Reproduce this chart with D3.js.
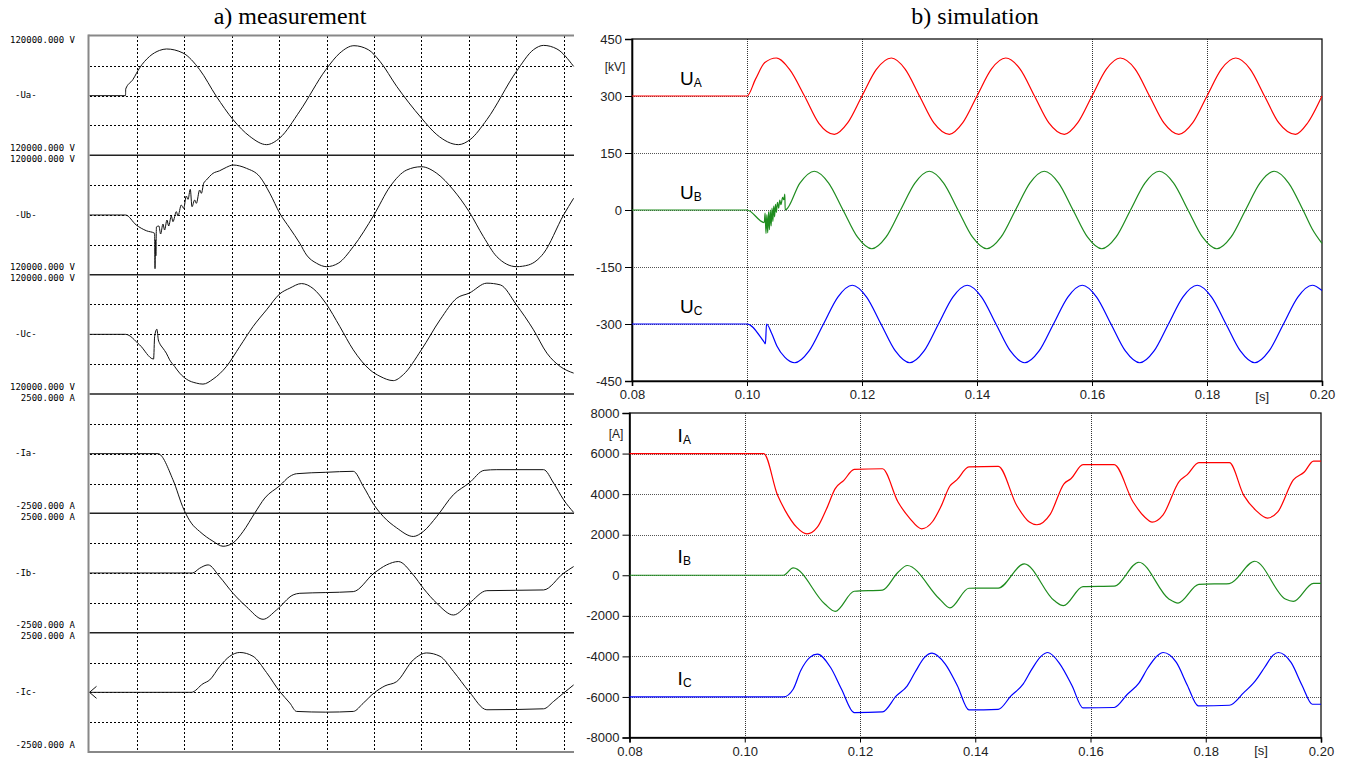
<html>

<head>
	<meta charset="UTF-8">
	<title>Measurement vs simulation</title>
	<script src="https://cdn.jsdelivr.net/npm/d3@7"></script>
	<style>
		body {
			padding: 0;
			margin: 0;
			background: #fff;
		}
	</style>
</head>

<body>
	<script>
		var w = 1351,
			h = 761;

		// ---- a) measurement: time in ms, values in V / A ----
		var measGridMs = [5, 10, 15, 20, 25, 30, 35, 40, 45, 50];
		var measNames = ["-Ua-", "-Ub-", "-Uc-", "-Ia-", "-Ib-", "-Ic-"];
		var measTopLabels = ["120000.000 V", "120000.000 V", "120000.000 V", "2500.000 A", "2500.000 A", "2500.000 A"];
		var measBottomLabels = ["120000.000 V", "120000.000 V", "120000.000 V", "-2500.000 A", "-2500.000 A", "-2500.000 A"];
		var measFullScale = [120000, 120000, 120000, 2500, 2500, 2500];

		var measUa = [[0, 0], [3.80, 0], [3.82, 13500], [4.57, 32200], [5.28, 55700], [6.34, 79000], [7.39, 91000], [8.13, 93900],
			[9.86, 85800], [11.62, 52300], [13.38, -1400], [15.14, -48200], [16.90, -81800], [18.67, -98500], [20.07, -85000],
			[22.18, -31000], [24.93, 52300], [26.41, 85800], [27.89, 100500], [29.40, 92500], [30.64, 68900], [32.40, 18700],
			[35.00, -44800], [36.63, -78400], [38.91, -98500], [40.14, -88400], [41.91, -48200], [45.03, 48800], [46.83, 92500],
			[47.89, 101100], [49.30, 93900], [51.06, 58900]];
		var measUb = [[0, 0], [3.80, 0], [4.93, -20100], [5.99, -31600], [6.87, -36800], [6.91, -108000], [6.95, -50000],
			[7.00, -82000], [7.06, -24000], [7.32, -22100], [7.50, -38200], [7.75, -18100], [7.92, -30200], [8.17, -10100],
			[8.35, -22100], [8.63, -2000], [8.80, -13400], [9.16, 6700], [9.33, -2000], [9.68, 20100], [9.93, 13400],
			[10.21, 38200], [10.39, 31500], [10.63, 51600], [10.81, 16700], [11.09, 30200], [11.27, 23500], [11.62, 50300],
			[11.80, 43600], [12.04, 63700], [12.33, 70400], [13.03, 83800], [13.73, 89000], [14.44, 95900], [15.14, 100500],
			[16.55, 93900], [17.96, 77000], [19.02, 43600], [20.07, 3400], [21.13, -26700], [22.18, -56900], [22.89, -80400],
			[23.95, -97100], [25.01, -103900], [26.23, -97100], [27.82, -63700], [30.00, 0], [31.69, 56900], [33.46, 90500],
			[35.00, 97100], [36.63, 83800], [38.38, 50300], [40.04, 6600], [41.55, -43600], [42.96, -83800], [45.03, -103900],
			[46.30, -100500], [47.89, -77000], [50.00, 0], [51.06, 33600]];
		var measUc = [[0, 0], [3.80, 0], [5.28, -21100], [6.76, -49700], [6.87, -4400], [7.11, 10300], [7.26, -11100],
			[7.39, -17800], [7.74, -27800], [8.10, -37800], [8.45, -51300], [8.98, -64700], [9.51, -78000], [10.22, -90100],
			[11.27, -98100], [11.97, -100100], [13.03, -90100], [14.44, -64700], [15.85, -24500], [17.25, 15700], [18.67, 49200],
			[20.07, 81400], [21.13, 92900], [22.36, 102100], [23.59, 92000], [24.93, 62300], [26.41, 15400], [27.82, -31200],
			[29.58, -71400], [30.64, -84400], [32.04, -93100], [33.10, -81000], [35.00, -31200], [36.97, 29100], [38.74, 72700],
			[40.04, 82800], [41.91, 102900], [43.32, 99500], [45.03, 59300], [46.83, 9000], [48.24, -37800], [49.65, -64700],
			[51.06, -78000]];
		var measIa = [[0, 0], [7.22, 0], [8.80, -1090], [9.96, -2350], [10.74, -2910], [11.62, -3260], [13.03, -3670],
			[14.09, -3880], [15.14, -3740], [16.20, -3260], [17.43, -2490], [18.49, -1860], [20.07, -1340], [21.13, -950],
			[21.84, -840], [24.93, -780], [27.82, -740], [28.88, -1370], [30.00, -2140], [30.98, -2630], [32.40, -3110],
			[34.15, -3470], [35.21, -3260], [36.63, -2630], [38.38, -1720], [40.04, -1230], [41.62, -700], [42.96, -670],
			[47.89, -670], [48.95, -1230], [50.00, -1930], [51.06, -2460]];
		var measIb = [[0, 0], [10.85, 0], [11.62, 200], [12.51, 340], [13.73, -160], [15.14, -850], [16.55, -1410],
			[18.31, -1940], [19.72, -1550], [21.48, -920], [22.18, -850], [24.93, -820], [27.82, -780], [30.00, -10],
			[31.34, 340], [32.57, 480], [34.15, -80], [35.21, -640], [36.63, -1270], [38.38, -1760], [40.04, -1270],
			[41.91, -740], [47.89, -710], [50.00, -10], [51.06, 270]];
		var measIc = [[0, 0], [10.74, 0], [11.97, 360], [12.68, 520], [13.73, 1080], [14.79, 1510], [15.85, 1670],
			[17.25, 1510], [18.67, 830], [20.07, 30], [21.13, -450], [21.84, -800], [24.93, -830], [27.82, -800],
			[28.88, -450], [30.00, -30], [31.16, 270], [32.40, 450], [34.15, 1360], [35.56, 1650], [36.97, 1510],
			[38.38, 880], [40.04, 30], [41.91, -730], [47.89, -690], [48.95, -380], [50.00, -30], [51.06, 310]];
		var measSeries = [measUa, measUb, measUc, measIa, measIb, measIc];

		// ---- b) simulation: time in s, kV / A ----
		var simTimeTicks = [0.08, 0.10, 0.12, 0.14, 0.16, 0.18, 0.20];
		var simUTicks = [-450, -300, -150, 0, 150, 300, 450];
		var simITicks = [-8000, -6000, -4000, -2000, 0, 2000, 4000, 6000, 8000];

		var simUA = [[0.08, 300], [0.10, 300], [0.1015, 345], [0.1031, 388], [0.1051, 400], [0.1074, 370], [0.110, 300],
			[0.1125, 228], [0.1152, 199], [0.1175, 229], [0.120, 300], [0.1225, 370], [0.1251, 400], [0.1275, 371],
			[0.130, 300], [0.1325, 229], [0.1352, 199], [0.1375, 229], [0.140, 300], [0.1425, 371], [0.145, 400],
			[0.1475, 371], [0.150, 300], [0.1525, 229], [0.1552, 199], [0.1575, 229], [0.160, 300], [0.1625, 371],
			[0.1649, 400], [0.1675, 371], [0.170, 300], [0.1725, 229], [0.1751, 199], [0.1775, 229], [0.180, 300],
			[0.1825, 371], [0.185, 400], [0.1875, 371], [0.190, 300], [0.1925, 229], [0.1954, 199], [0.1975, 229],
			[0.200, 300]];
		var simUB = [[0.08, 0], [0.10, 0], [0.1030, -33], [0.10315, -8], [0.1033, -62], [0.10345, -12], [0.1036, -60],
			[0.10375, -4], [0.1039, -52], [0.10405, 0], [0.1042, -42], [0.10435, 5], [0.1045, -30], [0.10465, 10],
			[0.1048, -18], [0.10495, 15], [0.1051, -6], [0.1053, 20], [0.1055, 5], [0.1057, 26], [0.1059, 14],
			[0.1062, 33], [0.1064, 27], [0.10658, 42], [0.10664, 0], [0.1092, 71], [0.1117, 102], [0.1142, 71],
			[0.1167, 0], [0.1192, -71], [0.1217, -102], [0.1242, -71], [0.1267, 0], [0.1292, 71], [0.1317, 102],
			[0.1342, 71], [0.1367, 0], [0.1392, -71], [0.1417, -102], [0.1442, -71], [0.1467, 0], [0.1492, 71],
			[0.1517, 102], [0.1542, 71], [0.1567, 0], [0.1592, -71], [0.1617, -102], [0.1642, -71], [0.1667, 0],
			[0.1692, 71], [0.1717, 102], [0.1742, 71], [0.1767, 0], [0.1792, -71], [0.1817, -102], [0.1842, -71],
			[0.1867, 0], [0.1892, 71], [0.1917, 102], [0.1942, 71], [0.1967, 0], [0.1983, -50], [0.20, -88]];
		var simUC = [[0.08, -300], [0.10, -300], [0.1030, -348], [0.1032, -352], [0.1034, -300], [0.1043, -325],
			[0.1052, -358], [0.1066, -388], [0.1083, -402], [0.1108, -371], [0.1133, -300], [0.1158, -229],
			[0.1183, -198], [0.1208, -229], [0.1233, -300], [0.1258, -371], [0.1283, -402], [0.1308, -371],
			[0.1333, -300], [0.1358, -229], [0.1383, -198], [0.1408, -229], [0.1433, -300], [0.1458, -371],
			[0.1483, -402], [0.1508, -371], [0.1533, -300], [0.1558, -229], [0.1583, -198], [0.1608, -229],
			[0.1633, -300], [0.1658, -371], [0.1683, -402], [0.1708, -371], [0.1733, -300], [0.1758, -229],
			[0.1783, -198], [0.1808, -229], [0.1833, -300], [0.1858, -371], [0.1883, -402], [0.1908, -371],
			[0.1933, -300], [0.1958, -229], [0.1983, -198], [0.20, -212]];

		var simIA = [[0.08, 6000], [0.1033, 6000], [0.1057, 3940], [0.1070, 3200], [0.1090, 2370], [0.1108, 2040],
			[0.1126, 2370], [0.1142, 3280], [0.1157, 4270], [0.1172, 4680], [0.1190, 5220], [0.1239, 5250],
			[0.1266, 3610], [0.1286, 2820], [0.1307, 2290], [0.1326, 2650], [0.1340, 3360], [0.1356, 4400],
			[0.1368, 4700], [0.1389, 5340], [0.1440, 5370], [0.1472, 3440], [0.1494, 2620], [0.1507, 2490],
			[0.1530, 3000], [0.1554, 4510], [0.1566, 4760], [0.1587, 5450], [0.1641, 5450], [0.1674, 3610],
			[0.1694, 2870], [0.1707, 2620], [0.1726, 2980], [0.1754, 4630], [0.1768, 4960], [0.1788, 5550],
			[0.1841, 5550], [0.1866, 3940], [0.1887, 3200], [0.1907, 2820], [0.1925, 3120], [0.1952, 4700],
			[0.1971, 5090], [0.1987, 5630], [0.20, 5630]];
		var simIB = [[0.08, 0], [0.1067, 0], [0.1084, 360], [0.1139, -1420], [0.1157, -1780], [0.1190, -790],
			[0.1239, -730], [0.1266, 150], [0.1282, 480], [0.1338, -1170], [0.1356, -1610], [0.1389, -640],
			[0.1440, -630], [0.1485, 560], [0.1537, -1250], [0.1553, -1500], [0.1587, -560], [0.1641, -540],
			[0.1684, 640], [0.1736, -1170], [0.1752, -1370], [0.1788, -450], [0.1841, -410], [0.1885, 690],
			[0.1938, -1170], [0.1952, -1290], [0.1987, -400], [0.20, -400]];
		var simIC = [[0.08, -6000], [0.1067, -6000], [0.1084, -5620], [0.1097, -4710], [0.1113, -4050], [0.1126, -3890],
			[0.1149, -4550], [0.1168, -5620], [0.1190, -6770], [0.1239, -6740], [0.1263, -5950], [0.1282, -5450],
			[0.1296, -4760], [0.1312, -4050], [0.1325, -3840], [0.1348, -4380], [0.1369, -5450], [0.1389, -6640],
			[0.1440, -6610], [0.1462, -5950], [0.1483, -5370], [0.1498, -4640], [0.1514, -4000], [0.1526, -3810],
			[0.1547, -4380], [0.1568, -5450], [0.1587, -6540], [0.1641, -6520], [0.1664, -5870], [0.1684, -5320],
			[0.1700, -4550], [0.1716, -3970], [0.1726, -3810], [0.1749, -4300], [0.1768, -5420], [0.1787, -6440],
			[0.1841, -6410], [0.1866, -5790], [0.1886, -5210], [0.1902, -4550], [0.1917, -3940], [0.1926, -3810],
			[0.1948, -4300], [0.1967, -5420], [0.1985, -6360], [0.20, -6360]];

		var phaseColors = ["#ff0000", "#1e8c1e", "#0000ff"];
		var phaseSubs = ["A", "B", "C"];

		var svg = d3.select("body").append("svg")
			.attr("width", w)
			.attr("height", h)
			.style("background", "#fff");

		var sans = "'Liberation Sans', Arial, sans-serif";
		var mono = "'DejaVu Sans Mono', 'Liberation Mono', monospace";
		var serif = "'Liberation Serif', 'Times New Roman', serif";

		// snap thin lines to the pixel grid so dotted lines stay dotted
		function crisp(v) {
			return Math.round(v) + 0.5;
		}

		// titles
		svg.append("text").attr("x", 290).attr("y", 24).attr("text-anchor", "middle")
			.style("font-family", serif).style("font-size", "24px").text("a) measurement");
		svg.append("text").attr("x", 975).attr("y", 24).attr("text-anchor", "middle")
			.style("font-family", serif).style("font-size", "24px").text("b) simulation");

		// ================= a) measurement =================
		var mLeft = 89.5, mRight = 574, mTop = 36, mBottom = 752;
		var bandH = (mBottom - mTop) / 6;
		var xMeas = d3.scaleLinear().domain([0, 51.1]).range([mLeft, mRight]);
		var meas = svg.append("g");

		// vertical dotted grid
		meas.selectAll("line.vgrid").data(measGridMs).enter().append("line")
			.attr("x1", d => crisp(xMeas(d))).attr("x2", d => crisp(xMeas(d)))
			.attr("y1", mTop).attr("y2", mBottom)
			.attr("stroke", "#000").attr("stroke-width", 1).attr("stroke-dasharray", "2,2");

		measSeries.forEach(function (series, i) {
			var top = mTop + i * bandH;
			var r = measFullScale[i];
			var y = d3.scaleLinear().domain([-r, r]).range([top + bandH, top]);

			meas.selectAll("line.h" + i).data([-r / 2, 0, r / 2]).enter().append("line")
				.attr("x1", Math.round(mLeft)).attr("x2", mRight)
				.attr("y1", d => crisp(y(d))).attr("y2", d => crisp(y(d)))
				.attr("stroke", "#000").attr("stroke-width", 1).attr("stroke-dasharray", "2,2");

			if (i > 0) {
				meas.append("line").attr("x1", mLeft).attr("x2", mRight)
					.attr("y1", y(r)).attr("y2", y(r))
					.attr("stroke", "#222").attr("stroke-width", 1.5);
			}

			meas.append("path").datum(series)
				.attr("fill", "none").attr("stroke", "#111").attr("stroke-width", 1)
				.attr("d", d3.line().x(d => xMeas(d[0])).y(d => y(d[1])).curve(d3.curveMonotoneX));

			meas.append("text").attr("x", 75).attr("y", y(r) + 4).attr("text-anchor", "end")
				.attr("dominant-baseline", "middle")
				.style("font-family", mono).style("font-size", "9px").text(measTopLabels[i]);
			meas.append("text").attr("x", 75).attr("y", y(-r) - 7).attr("text-anchor", "end")
				.attr("dominant-baseline", "middle")
				.style("font-family", mono).style("font-size", "9px").text(measBottomLabels[i]);
			meas.append("text").attr("x", 15).attr("y", y(0)).attr("dominant-baseline", "middle")
				.style("font-family", mono).style("font-size", "9px").text(measNames[i]);

			// cursor arrow on the last channel
			if (i == 5) {
				var ax = xMeas(0), ay = y(0);
				meas.append("path")
					.attr("d", "M" + (ax + 7) + "," + (ay - 6) + "L" + ax + "," + ay + "L" + (ax + 7) + "," + (ay + 6))
					.attr("fill", "none").attr("stroke", "#111").attr("stroke-width", 1);
			}
		});

		// frame: gray top, left, bottom
		meas.append("line").attr("x1", mLeft - 1).attr("x2", mRight).attr("y1", mTop - 0.5).attr("y2", mTop - 0.5)
			.attr("stroke", "#888").attr("stroke-width", 2);
		meas.append("line").attr("x1", mLeft - 1).attr("x2", mRight).attr("y1", mBottom).attr("y2", mBottom)
			.attr("stroke", "#888").attr("stroke-width", 2);
		meas.append("line").attr("x1", mLeft - 1).attr("x2", mLeft - 1).attr("y1", mTop - 1.5).attr("y2", mBottom + 1)
			.attr("stroke", "#888").attr("stroke-width", 2);

		// ================= b) simulation =================
		function simChart(x, y, yTicks, series, unit, unitX, unitY, labelOffset, sOffset) {
			var g = svg.append("g");
			var x0 = x.range()[0], x1 = x.range()[1];
			var y0 = y.range()[0], y1 = y.range()[1];

			// grid (start the dash pattern on a whole pixel)
			g.selectAll("line.vg").data(simTimeTicks.slice(1, -1)).enter().append("line")
				.attr("x1", d => crisp(x(d))).attr("x2", d => crisp(x(d)))
				.attr("y1", Math.round(y1)).attr("y2", y0)
				.attr("stroke", "#333").attr("stroke-width", 1).attr("stroke-dasharray", "1,1");
			g.selectAll("line.hg").data(yTicks.slice(1, -1)).enter().append("line")
				.attr("x1", Math.round(x0)).attr("x2", x1).attr("y1", d => crisp(y(d))).attr("y2", d => crisp(y(d)))
				.attr("stroke", "#555").attr("stroke-width", 1).attr("stroke-dasharray", "1,1");

			// frame
			g.append("rect").attr("x", x0).attr("y", y1).attr("width", x1 - x0).attr("height", y0 - y1)
				.attr("fill", "none").attr("stroke", "#111").attr("stroke-width", 1.3);

			// axes
			var ax = g.append("g").attr("transform", "translate(" + x0 + ",0)")
				.call(d3.axisLeft(y).tickValues(yTicks).tickSize(7).tickPadding(3).tickFormat(d => String(d)));
			var bx = g.append("g").attr("transform", "translate(0," + y0 + ")")
				.call(d3.axisBottom(x).tickValues(simTimeTicks).tickSize(5).tickPadding(4).tickFormat(d3.format(".2f")));
			[ax, bx].forEach(function (a) {
				a.select(".domain").attr("stroke", "#000").attr("stroke-width", 1.6);
				a.selectAll(".tick line").attr("stroke", "#000");
				a.selectAll(".tick text").style("font-family", sans).style("font-size", "13px").attr("fill", "#222");
			});

			// traces
			series.forEach(function (s, i) {
				g.append("path").datum(s)
					.attr("fill", "none").attr("stroke", phaseColors[i]).attr("stroke-width", 1.2)
					.attr("d", d3.line().x(d => x(d[0])).y(d => y(d[1])).curve(d3.curveMonotoneX));
			});

			// phase labels
			series.forEach(function (s, i) {
				var t = g.append("text").attr("x", x(0.08835)).attr("y", y(s[0][1]) - labelOffset)
					.style("font-family", sans).attr("fill", "#000");
				t.append("tspan").style("font-size", "19px").text(unit.sym);
				t.append("tspan").style("font-size", "12px").attr("dy", 2).text(phaseSubs[i]);
			});

			g.append("text").attr("x", unitX).attr("y", unitY).attr("text-anchor", "middle")
				.attr("dominant-baseline", "middle")
				.style("font-family", sans).style("font-size", "12px").attr("fill", "#222").text(unit.name);
			g.append("text").attr("x", x(0.1896)).attr("y", y0 + sOffset).attr("text-anchor", "middle")
				.attr("dominant-baseline", "middle")
				.style("font-family", sans).style("font-size", "13px").attr("fill", "#222").text("[s]");
		}

		var xU = d3.scaleLinear().domain([0.08, 0.20]).range([632, 1322]);
		var yU = d3.scaleLinear().domain([-450, 450]).range([381, 39]);
		var xI = d3.scaleLinear().domain([0.08, 0.20]).range([629.5, 1321]);
		var yI = d3.scaleLinear().domain([-8000, 8000]).range([737.5, 413]);

		simChart(xU, yU, simUTicks, [simUA, simUB, simUC], { sym: "U", name: "[kV]" }, 615, 68, 11, 17);
		simChart(xI, yI, simITicks, [simIA, simIB, simIC], { sym: "I", name: "[A]" }, 616, 435, 12, 14);
	</script>

</body>

</html>
